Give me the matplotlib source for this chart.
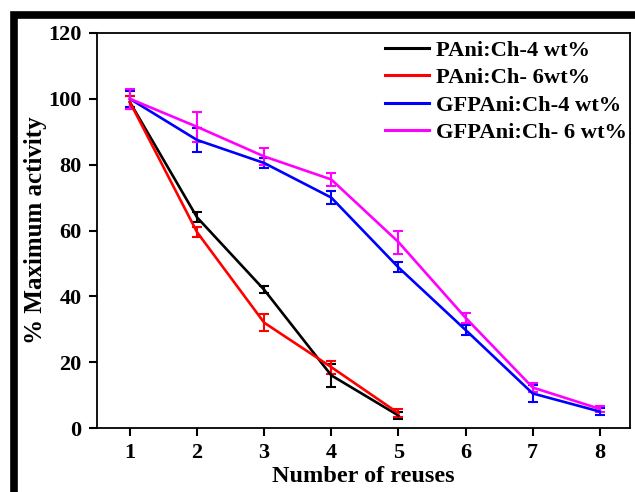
import matplotlib
matplotlib.use("Agg")
import matplotlib.pyplot as plt
from matplotlib.patches import Rectangle
from matplotlib.lines import Line2D

reuses_short = [1, 2, 3, 4, 5]
reuses_long = [1, 2, 3, 4, 5, 6, 7, 8]

pani4 = [99, 64, 42, 16, 3.8]
pani4_err = [2, 1.5, 1, 3.5, 1]
pani6 = [99, 59.5, 32, 18.5, 4.5]
pani6_err = [2, 1.5, 2.5, 2, 1.2]
gfp4 = [100, 87.5, 80.5, 70, 48.8, 29.8, 10.5, 5.0]
gfp4_err = [2.5, 3.5, 1.5, 2, 1.5, 1.5, 2.5, 1]
gfp6 = [100, 91.5, 82.5, 75.5, 56.5, 33.5, 12.3, 5.8]
gfp6_err = [3, 4.5, 2.5, 2, 3.5, 1.5, 1.5, 1]

labels = ["PAni:Ch-4 wt%", "PAni:Ch- 6wt%", "GFPAni:Ch-4 wt%", "GFPAni:Ch- 6 wt%"]
colors = ["#000000", "#ff0000", "#0000ff", "#ff00ff"]

plt.rcParams['font.family'] = ['Liberation Serif', 'DejaVu Serif']
plt.rcParams['font.weight'] = 'bold'

fig = plt.figure(figsize=(6.35, 4.92), dpi=100)
# thick black outer frame (cut at right/bottom)
fig.patches.append(Rectangle((13.5/635, -0.2), 1.5, 1.2 - 15/492,
                             transform=fig.transFigure, fill=False,
                             edgecolor='black', linewidth=5.5, zorder=0))
ax = fig.add_axes([97/635, 1 - 428/492, (630 - 97)/635, (428 - 33)/492])

series = [
    (reuses_short, pani4, pani4_err),
    (reuses_short, pani6, pani6_err),
    (reuses_long, gfp4, gfp4_err),
    (reuses_long, gfp6, gfp6_err),
]
for (x, y, e), lab, c in zip(series, labels, colors):
    ax.errorbar(x, y, yerr=e, color=c, lw=1.9, elinewidth=1.5, capsize=3.5,
                capthick=1.5, label=lab)

ax.set_xlim(0.51, 8.45)
ax.set_ylim(0, 120)
ax.set_xticks(range(1, 9))
ax.set_yticks(range(0, 121, 20))
for s in ax.spines.values():
    s.set_linewidth(1.3)
ax.tick_params(direction='out', length=6, width=1.5, labelsize=16, pad=5)
for t in ax.get_xticklabels() + ax.get_yticklabels():
    t.set_fontweight('bold')
ax.set_xlabel("Number of reuses", fontsize=17.5, fontweight='bold', labelpad=2)
ax.set_ylabel("% Maximum activity", fontsize=18, fontweight='bold', labelpad=1)

hs = [Line2D([], [], color=c, lw=2.2) for c in colors]
leg = ax.legend(hs, labels, loc='upper right', frameon=False,
                prop={'size': 16.2, 'weight': 'bold'}, handlelength=1.95,
                handletextpad=0.35, labelspacing=0.3,
                borderaxespad=0.0, bbox_to_anchor=(1.012, 1.005))

fig.savefig("out.png", dpi=100)
